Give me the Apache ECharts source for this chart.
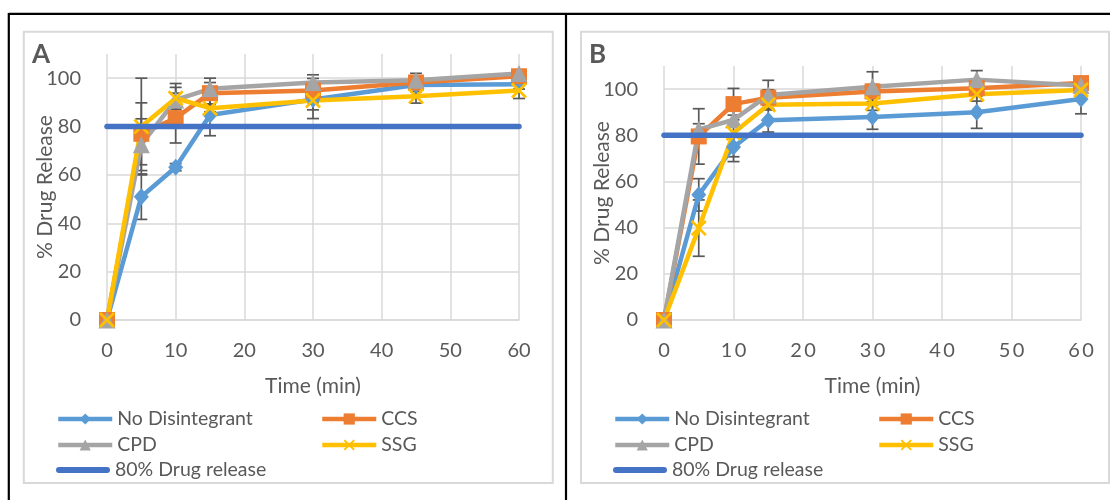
<!DOCTYPE html>
<html>
<head>
<meta charset="utf-8">
<script src="https://cdn.jsdelivr.net/npm/echarts@6/dist/echarts.min.js"></script>
<style>
  html, body { margin: 0; padding: 0; background: #ffffff; }
  #chart { width: 1110px; height: 500px; }
</style>
</head>
<body>
<div id="chart"></div>
<script>
// Sampling times (min) shared by both dissolution panels
const timePoints = [0, 5, 10, 15, 30, 45, 60];
const xTicks = [0, 10, 20, 30, 40, 50, 60];
const yTicks = [0, 20, 40, 60, 80, 100];
const seriesNames = ['No Disintegrant', 'CCS', 'CPD', 'SSG'];
const targetName = '80% Drug release';
const targetLevel = 80;
const panelLabels = ['A', 'B'];

// Panel A: mean % released
const noDisA = [0, 51, 63.2, 84.8, 91.2, 97.2, 97.5];
const ccsA   = [0, 77, 83.5, 93.8, 94.9, 98.2, 100.8];
const cpdA   = [0, 72.5, 91, 95.6, 98.2, 99.1, 101.9];
const ssgA   = [0, 80, 91.7, 87.6, 90.8, 92.5, 94.9];
// Panel A: standard deviations
const noDisErrA = [0, 9.4, 1.5, 8.6, 4.3, 1.5, 2];
const ccsErrA   = [0, 12.8, 10.3, 4.4, 5, 3.8, 1.5];
const cpdErrA   = [0, 10.7, 6.8, 4.4, 3.2, 1.5, 1.5];
const ssgErrA   = [0, 20, 4.5, 1.5, 7.5, 2.8, 3.3];

// Panel B: mean % released
const noDisB = [0, 54.2, 74.9, 86.5, 87.9, 90, 95.7];
const ccsB   = [0, 79.5, 93.5, 96.3, 99, 100.4, 102.6];
const cpdB   = [0, 82.5, 86.7, 97.4, 101, 104.1, 101.6];
const ssgB   = [0, 39.8, 81, 93.2, 93.8, 97.8, 99.6];
// Panel B: standard deviations
const noDisErrB = [0, 7, 4.2, 5.1, 5.3, 7, 6.4];
const ccsErrB   = [0, 12, 6.8, 3.4, 3, 2, 1.5];
const cpdErrB   = [0, 2.5, 2, 6.4, 6.5, 3.9, 1.5];
const ssgErrB   = [0, 12.2, 12.4, 2, 3, 3, 1.5];

const panels = [
  { values: [noDisA, ccsA, cpdA, ssgA], errors: [noDisErrA, ccsErrA, cpdErrA, ssgErrA] },
  { values: [noDisB, ccsB, cpdB, ssgB], errors: [noDisErrB, ccsErrB, cpdErrB, ssgErrB] }
];

const FONT = 'Lato';
const TEXT = '#595959';
const GRID = '#D9D9D9';
const colors = ['#5B9BD5', '#ED7D31', '#A5A5A5', '#FFC000'];
const targetColor = '#4472C4';
const crossPath = 'path://M0,1.2L1.2,0L5,3.8L8.8,0L10,1.2L6.2,5L10,8.8L8.8,10L5,6.2L1.2,10L0,8.8L3.8,5Z';
const capsulePath = 'path://M3,0H51A3,3,0,0,1,51,6H3A3,3,0,0,1,3,0Z';
const symbols = ['diamond', 'rect', 'triangle', crossPath];
const symbolSizes = [[15, 17], 16, 17, 16];

const gridBoxes = [
  { left: 107, top: 54, width: 412, height: 266 },
  { left: 664, top: 66, width: 417, height: 254 }
];

const spaced = v => String(v).split('').join('\u2009');

const xAxes = gridBoxes.map((g, i) => ({
  type: 'value', gridIndex: i,
  min: xTicks[0], max: xTicks[xTicks.length - 1], interval: xTicks[1] - xTicks[0],
  axisLine: { show: true, lineStyle: { color: GRID, width: 1.5 } },
  axisTick: { show: false },
  splitLine: { show: true, lineStyle: { color: GRID, width: 1.5 } },
  axisLabel: {
    color: TEXT, fontFamily: FONT, fontSize: 20, margin: 21,
    formatter: i === 1 ? spaced : (v => String(v))
  },
  name: 'Time (min)', nameLocation: 'middle', nameGap: 56, nameMoveOverlap: false,
  nameTextStyle: { color: TEXT, fontFamily: FONT, fontSize: 21 }
}));

const yAxes = gridBoxes.map((g, i) => ({
  type: 'value', gridIndex: i,
  min: yTicks[0], max: 110, interval: yTicks[1] - yTicks[0],
  axisLine: { show: false },
  axisTick: { show: false },
  splitLine: { show: true, showMaxLine: false, lineStyle: { color: GRID, width: 1.5 } },
  axisLabel: { color: TEXT, fontFamily: FONT, fontSize: 20, margin: 26, showMaxLabel: false },
  name: '% Drug Release', nameLocation: 'middle', nameGap: 51, nameRotate: 90, nameMoveOverlap: false,
  nameTextStyle: { color: TEXT, fontFamily: FONT, fontSize: 21 }
}));

// Vertical error bar with caps, drawn through the axis scales
function errorBars(panelIdx, values, errs, k) {
  const data = [];
  timePoints.forEach((t, i) => {
    if (errs[i] > 0) data.push([t, values[i] - errs[i], values[i] + errs[i]]);
  });
  return {
    type: 'custom', name: 'sd-' + panelIdx + '-' + k,
    xAxisIndex: panelIdx, yAxisIndex: panelIdx, z: 1, silent: true,
    data: data,
    encode: { x: 0, y: [1, 2] },
    renderItem: function (params, api) {
      const lo = api.coord([api.value(0), api.value(1)]);
      const hi = api.coord([api.value(0), api.value(2)]);
      const w = 6;
      const style = { stroke: '#595959', lineWidth: 1.7, fill: null };
      return {
        type: 'group',
        children: [
          { type: 'line', shape: { x1: lo[0], y1: lo[1], x2: hi[0], y2: hi[1] }, style: style },
          { type: 'line', shape: { x1: lo[0] - w, y1: lo[1], x2: lo[0] + w, y2: lo[1] }, style: style },
          { type: 'line', shape: { x1: hi[0] - w, y1: hi[1], x2: hi[0] + w, y2: hi[1] }, style: style }
        ]
      };
    }
  };
}

const series = [];
panels.forEach((p, pi) => {
  p.values.forEach((vals, k) => {
    series.push(errorBars(pi, vals, p.errors[k], k));
  });
  p.values.forEach((vals, k) => {
    series.push({
      type: 'line', name: seriesNames[k],
      xAxisIndex: pi, yAxisIndex: pi, z: 2,
      data: timePoints.map((t, i) => [t, vals[i]]),
      symbol: symbols[k], symbolSize: symbolSizes[k], showAllSymbol: true,
      lineStyle: { color: colors[k], width: 4.5, join: 'round' },
      itemStyle: { color: colors[k], borderColor: colors[k], borderWidth: 0, opacity: 1 },
      emphasis: { disabled: true }
    });
  });
  series.push({
    type: 'line', name: targetName,
    xAxisIndex: pi, yAxisIndex: pi, z: 3,
    data: [[xTicks[0], targetLevel], [xTicks[xTicks.length - 1], targetLevel]],
    symbol: 'none',
    lineStyle: { color: targetColor, width: 5.5, cap: 'round' },
    itemStyle: { color: targetColor },
    emphasis: { disabled: true }
  });
});

// Legend: two columns, three rows, one block per panel
const legendNames = seriesNames.concat([targetName]);
const legendCols = [[56, 320], [613, 877]];
const legendRows = [419, 445, 470];
const legends = [];
[0, 1].forEach(pi => {
  legendNames.forEach((name, j) => {
    const row = Math.floor(j / 2);
    const col = j % 2;
    const isTarget = name === targetName;
    legends.push({
      data: [isTarget ? { name: name, icon: capsulePath } : name],
      left: legendCols[pi][col],
      top: legendRows[row] - 10,
      padding: 0,
      itemWidth: 54, itemHeight: isTarget ? 6 : 14, itemGap: 0,
      selectedMode: false,
      textStyle: { color: TEXT, fontFamily: FONT, fontSize: 19.5 },
      lineStyle: { width: 4.5 }
    });
  });
});

const graphics = [
  // outer table frame
  { type: 'line', shape: { x1: 8.8, y1: 13.8, x2: 1110, y2: 13.8 }, style: { stroke: '#000', lineWidth: 2.2 } },
  { type: 'line', shape: { x1: 8.8, y1: 13, x2: 8.8, y2: 500 }, style: { stroke: '#000', lineWidth: 2.2 } },
  { type: 'line', shape: { x1: 566, y1: 13, x2: 566, y2: 500 }, style: { stroke: '#000', lineWidth: 2.2 } },
  // chart area borders
  { type: 'rect', shape: { x: 23.8, y: 31.7, width: 529, height: 451.3 }, style: { stroke: GRID, lineWidth: 2, fill: null } },
  { type: 'rect', shape: { x: 581, y: 31.7, width: 528, height: 451.3 }, style: { stroke: GRID, lineWidth: 2, fill: null } },
  // panel letters
  { type: 'text', x: 32, y: 55, style: { text: panelLabels[0], fill: TEXT, font: 'bold 26px Lato', textVerticalAlign: 'middle' } },
  { type: 'text', x: 589, y: 55, style: { text: panelLabels[1], fill: TEXT, font: 'bold 26px Lato', textVerticalAlign: 'middle' } }
];

const chart = echarts.init(document.getElementById('chart'), null, { renderer: 'canvas' });
chart.setOption({
  animation: false,
  backgroundColor: '#ffffff',
  textStyle: { fontFamily: FONT },
  grid: gridBoxes,
  xAxis: xAxes,
  yAxis: yAxes,
  legend: legends,
  series: series,
  graphic: graphics
});
</script>
</body>
</html>
